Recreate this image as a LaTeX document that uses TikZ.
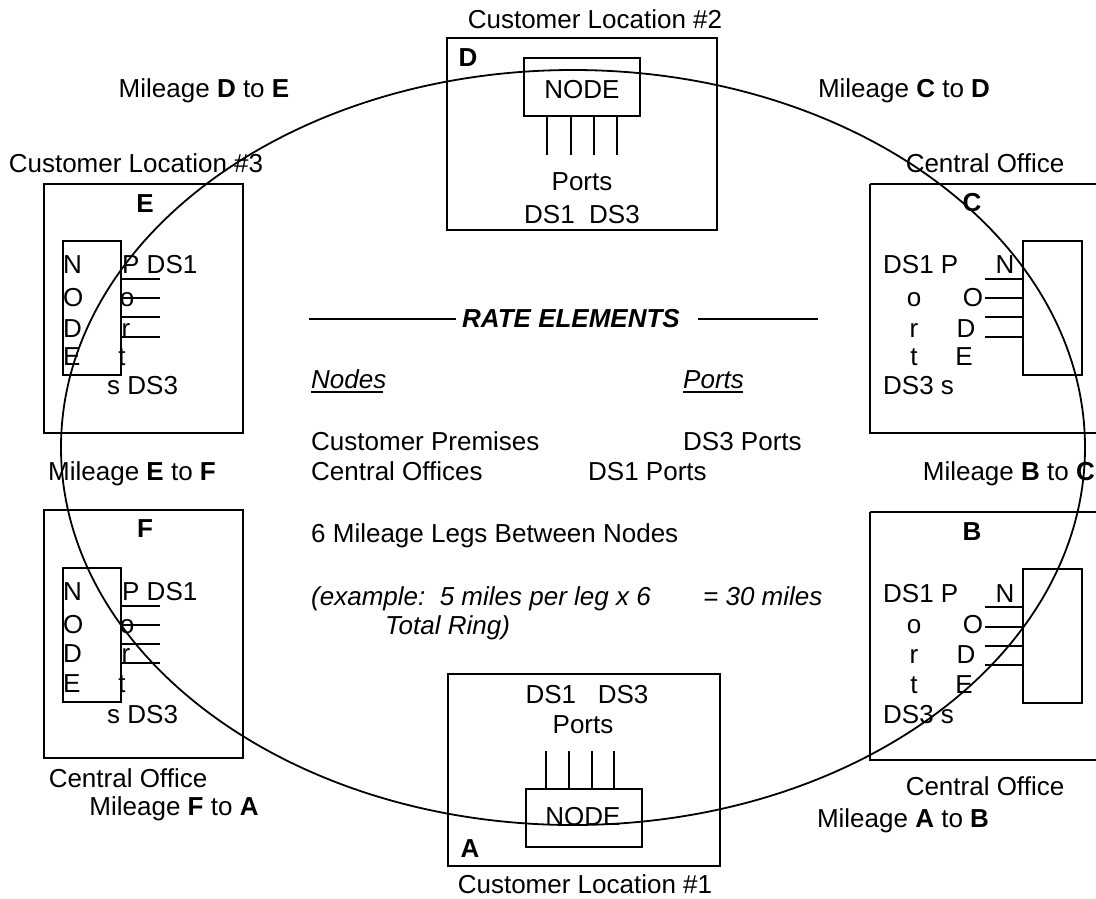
\documentclass[tikz,border=0pt]{standalone}
\usepackage{fontspec}
\setmainfont{Liberation Sans}
\begin{document}
\begin{tikzpicture}[x=1pt,y=-1pt,
  every node/.style={font=\fontsize{26}{30}\selectfont, inner sep=0pt},
  frame/.style={draw, line width=1.3pt},
  stub/.style={line width=1.3pt},
  ring/.style={line width=1.8pt},
  lb/.style={anchor=base},
  lbw/.style={anchor=base west},
  und/.style={anchor=base west, font=\fontsize{26}{30}\selectfont\itshape}]
\useasboundingbox (0,0) rectangle (1096,898);

% ---------- D : Customer Location #2 ----------
\draw[frame] (447,38) rectangle (717,230);
\draw[frame] (524,58) rectangle (640,116);
\node[lb] (Dlab) at (468,66) {\textbf{D}};
\node[lb] (Dnode) at (582,98) {NODE};
\foreach \x in {547,571,594,617} \draw[stub] (\x,116) -- (\x,155);
\node[lb] (Dports) at (582,190) {Ports};
\node[lb] (Dds) at (582,223) {DS1\ \ DS3};
\node[lb] (Dtitle) at (595,28) {Customer Location \#2};

% ---------- E : Customer Location #3 ----------
\draw[frame] (44,184) rectangle (243,433);
\draw[frame] (63,241) rectangle (121,375);
\node[lb] (Elab) at (145,212) {\textbf{E}};
\node[lbw] (En) at (63,273) {N};
\node[lbw] (Eo) at (63,306) {O};
\node[lbw] (Ed) at (63,337) {D};
\node[lbw] (Ee) at (63,365) {E};
\node[lbw] (Ep) at (122,273) {P DS1};
\node[lb] (Epo) at (127,306) {o};
\node[lb] (Epr) at (126,337) {r};
\node[lb] (Ept) at (122,365) {t};
\node[lbw] (Es) at (107,394) {s DS3};
\foreach \y in {279,298,317,337} \draw[stub] (121,\y) -- (160,\y);
\node[lb] (Etitle) at (136,172) {Customer Location \#3};

% ---------- F : Central Office ----------
\draw[frame] (44,510) rectangle (243,758);
\draw[frame] (63,568) rectangle (121,702);
\node[lb] (Flab) at (145,537) {\textbf{F}};
\node[lbw] (Fn) at (63,600) {N};
\node[lbw] (Fo) at (63,633) {O};
\node[lbw] (Fd) at (63,662) {D};
\node[lbw] (Fe) at (63,692) {E};
\node[lbw] (Fp) at (122,600) {P DS1};
\node[lb] (Fpo) at (127,633) {o};
\node[lb] (Fpr) at (126,662) {r};
\node[lb] (Fpt) at (122,692) {t};
\node[lbw] (Fs) at (107,723) {s DS3};
\foreach \y in {606,625,644,663} \draw[stub] (121,\y) -- (160,\y);
\node[lb] (Ftitle) at (128,787) {Central Office};

% ---------- C : Central Office ----------
\draw[frame] (870,184) -- (1095.5,184) (870,184) -- (870,433) -- (1095.5,433);
\draw[frame] (1023,241) rectangle (1082,375);
\node[lb] (Clab) at (972,211) {\textbf{C}};
\node[lbw] (Cds1) at (883,273) {DS1 P};
\node[lb] (Cn) at (1005,273) {N};
\node[lb] (Cpo) at (914,306) {o};
\node[lb] (Co) at (973,306) {O};
\node[lb] (Cpr) at (914,337) {r};
\node[lb] (Cd) at (966,337) {D};
\node[lb] (Cpt) at (914,365) {t};
\node[lb] (Ce) at (964,365) {E};
\node[lbw] (Cds3) at (883,394) {DS3 s};
\foreach \y in {279,298,317,337} \draw[stub] (985,\y) -- (1023,\y);
\node[lb] (Ctitle) at (985,172) {Central Office};

% ---------- B : Central Office ----------
\draw[frame] (870,512) -- (1095.5,512) (870,512) -- (870,760) -- (1095.5,760);
\draw[frame] (1023,569) rectangle (1082,703);
\node[lb] (Blab) at (972,540) {\textbf{B}};
\node[lbw] (Bds1) at (883,602) {DS1 P};
\node[lb] (Bn) at (1005,602) {N};
\node[lb] (Bpo) at (914,633) {o};
\node[lb] (Bo) at (973,633) {O};
\node[lb] (Bpr) at (914,663) {r};
\node[lb] (Bd) at (966,663) {D};
\node[lb] (Bpt) at (914,693) {t};
\node[lb] (Be) at (964,693) {E};
\node[lbw] (Bds3) at (883,723) {DS3 s};
\foreach \y in {607,627,646,665} \draw[stub] (985,\y) -- (1023,\y);
\node[lb] (Btitle) at (985,795) {Central Office};

% ---------- A : Customer Location #1 ----------
\draw[frame] (448,674) rectangle (720,866);
\draw[frame] (526,789) rectangle (642,847);
\node[lb] (Ads) at (587,703) {DS1\ \ \ DS3};
\node[lb] (Aports) at (583,733) {Ports};
\foreach \x in {546,569,592,614} \draw[stub] (\x,751) -- (\x,789);
\node[lb] (Anode) at (583,825) {NODE};
\node[lb] (Alab) at (470,857) {\textbf{A}};
\node[lb] (Atitle) at (585,893) {Customer Location \#1};

% ---------- mileage labels ----------
\node[lb] (mDE) at (204,97) {Mileage \textbf{D} to \textbf{E}};
\node[lb] (mCD) at (904,97) {Mileage \textbf{C} to \textbf{D}};
\node[lb] (mEF) at (132,480) {Mileage \textbf{E} to \textbf{F}};
\node[anchor=base east] (mBC) at (1095,480) {Mileage \textbf{B} to \textbf{C}};
\node[lb] (mFA) at (174,815) {Mileage \textbf{F} to \textbf{A}};
\node[lb] (mAB) at (903,827) {Mileage \textbf{A} to \textbf{B}};

% ---------- centre text ----------
\node[lbw] (rate) at (462,327) {\textbf{\textit{RATE ELEMENTS}}};
\draw[stub] (309,319) -- (456,319);
\draw[stub] (698,319) -- (818,319);
\node[und] (nodes) at (311,388) {Nodes};
\draw[line width=1.2pt] (nodes.base west) ++(0,4) -- ++(72,0);
\node[und] (ports) at (683,388) {Ports};
\draw[line width=1.2pt] (ports.base west) ++(0,4) -- ++(60,0);
\node[lbw] (cp) at (311,450) {Customer Premises};
\node[lbw] (co) at (311,480) {Central Offices};
\node[lbw] (ds3) at (683,450) {DS3 Ports};
\node[lbw] (ds1) at (588,480) {DS1 Ports};
\node[lbw] (legs) at (311,542) {6 Mileage Legs Between Nodes};
\node[lbw, font=\fontsize{26}{30}\selectfont\itshape] (ex) at (311,605) {(example:\ \ 5 miles per leg x 6};
\node[lbw, font=\fontsize{26}{30}\selectfont\itshape] (eq) at (703,605) {= 30 miles};
\node[lbw, font=\fontsize{26}{30}\selectfont\itshape] (tot) at (385,634) {Total Ring)};

% ---------- ring ----------
\draw[ring] (573,447.5) ellipse [x radius=512pt, y radius=377.5pt];
\end{tikzpicture}
\end{document}
